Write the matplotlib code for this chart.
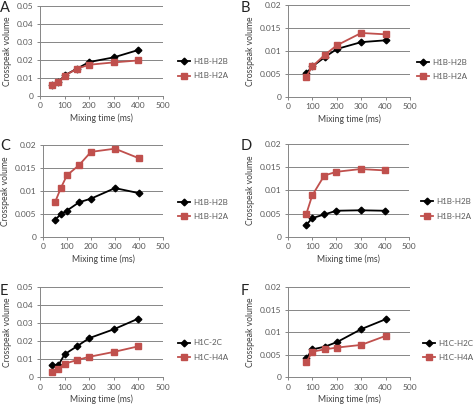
import matplotlib
matplotlib.use("Agg")
import matplotlib.pyplot as plt
import numpy as np

plt.rcParams['font.family'] = ['Lato', 'DejaVu Sans']

x7 = [50, 75, 100, 150, 200, 300, 400]
x6 = [75, 100, 150, 200, 300, 400]

a_h2b = [0.0060, 0.0075, 0.0113, 0.0150, 0.0187, 0.0213, 0.0254]
a_h2a = [0.0059, 0.0074, 0.0111, 0.0150, 0.0172, 0.0185, 0.0196]

b_h2b = [0.0051, 0.0066, 0.0086, 0.0104, 0.0119, 0.0123]
b_h2a = [0.0044, 0.0066, 0.0091, 0.0112, 0.0139, 0.0136]

c_h2b = [0.0037, 0.0049, 0.0057, 0.0075, 0.0083, 0.0106, 0.0095]
c_h2a = [0.0075, 0.0107, 0.0134, 0.0156, 0.0185, 0.0192, 0.0171]

d_h2b = [0.0025, 0.0040, 0.0048, 0.0056, 0.0057, 0.0056]
d_h2a = [0.0048, 0.0089, 0.0132, 0.0140, 0.0146, 0.0143]

e_2c = [0.0067, 0.0067, 0.0127, 0.0171, 0.0216, 0.0265, 0.0324]
e_h4a = [0.0031, 0.0047, 0.0075, 0.0095, 0.0113, 0.0140, 0.0171]

f_h2c = [0.0042, 0.0062, 0.0068, 0.0078, 0.0107, 0.0129]
f_h4a = [0.0034, 0.0057, 0.0062, 0.0066, 0.0072, 0.0092]

W, H = 477, 405
fig = plt.figure(figsize=(W / 100, H / 100), dpi=100)

GRAY = '#868686'
TXT = '#595959'
RED = '#C0504D'

panels = [
    ('A', (40, 163, 5.7, 95.7), x7, a_h2b, a_h2a, ('H1B-H2B', 'H1B-H2A'), 0.05, 0.01, (0, 8), 178),
    ('B', (288, 410, 5.0, 96.7), x6, b_h2b, b_h2a, ('H1B-H2B', 'H1B-H2A'), 0.02, 0.005, (241, 8), 417),
    ('C', (43, 163, 145, 236.7), x7, c_h2b, c_h2a, ('H1B-H2B', 'H1B-H2A'), 0.02, 0.005, (0, 146), 178),
    ('D', (288, 409, 144, 236.7), x6, d_h2b, d_h2a, ('H1B-H2B', 'H1B-H2A'), 0.02, 0.005, (241, 146), 421),
    ('E', (40, 163, 286.7, 377.3), x7, e_2c, e_h4a, ('H1C-2C', 'H1C-H4A'), 0.05, 0.01, (0, 291), 178),
    ('F', (288, 410, 287.3, 377.3), x6, f_h2c, f_h4a, ('H1C-H2C', 'H1C-H4A'), 0.02, 0.005, (241, 291), 423),
]

for letter, (l, r, t, b), xs, s1, s2, labs, ymax, ystep, (lx, ly), legx in panels:
    ax = fig.add_axes([l / W, 1 - b / H, (r - l) / W, (b - t) / H])
    ax.plot(xs, s1, color='black', marker='D', markersize=3.4, lw=1.3, label=labs[0], zorder=3)
    ax.plot(xs, s2, color=RED, marker='s', markersize=5, lw=1.3, label=labs[1], zorder=3)
    ax.set_xlim(0, 500)
    ax.set_ylim(0, ymax)
    ax.set_xticks([0, 100, 200, 300, 400, 500])
    yt = np.round(np.arange(0, ymax + ystep / 2, ystep), 4)
    ax.set_yticks(yt)
    ax.set_yticklabels(['0' if v == 0 else ('%g' % v) for v in yt])
    ax.grid(axis='y', color=GRAY, lw=0.7, zorder=0)
    ax.set_axisbelow(True)
    for s in ('top', 'right'):
        ax.spines[s].set_visible(False)
    for s in ('left', 'bottom'):
        ax.spines[s].set_color(GRAY)
        ax.spines[s].set_linewidth(0.7)
    ax.tick_params(axis='both', labelsize=6, colors=GRAY, labelcolor=TXT,
                   length=2.5, width=0.7, pad=2)
    ax.set_xlabel('Mixing time (ms)', fontsize=6.2, color='#404040', labelpad=3)
    ax.set_ylabel('Crosspeak volume', fontsize=6.2, color='#404040', labelpad=4)
    ax.legend(loc='center left', bbox_to_anchor=((legx - l) / (r - l), 0.30),
              frameon=False, fontsize=5.8, handlelength=1.5, handletextpad=0.35,
              labelspacing=0.9, borderpad=0, borderaxespad=0, labelcolor=TXT)
    fig.text(lx / W, 1 - ly / H, letter, fontsize=10.5, color='#222222',
             va='center', ha='left')

fig.savefig('out.png', dpi=100)
